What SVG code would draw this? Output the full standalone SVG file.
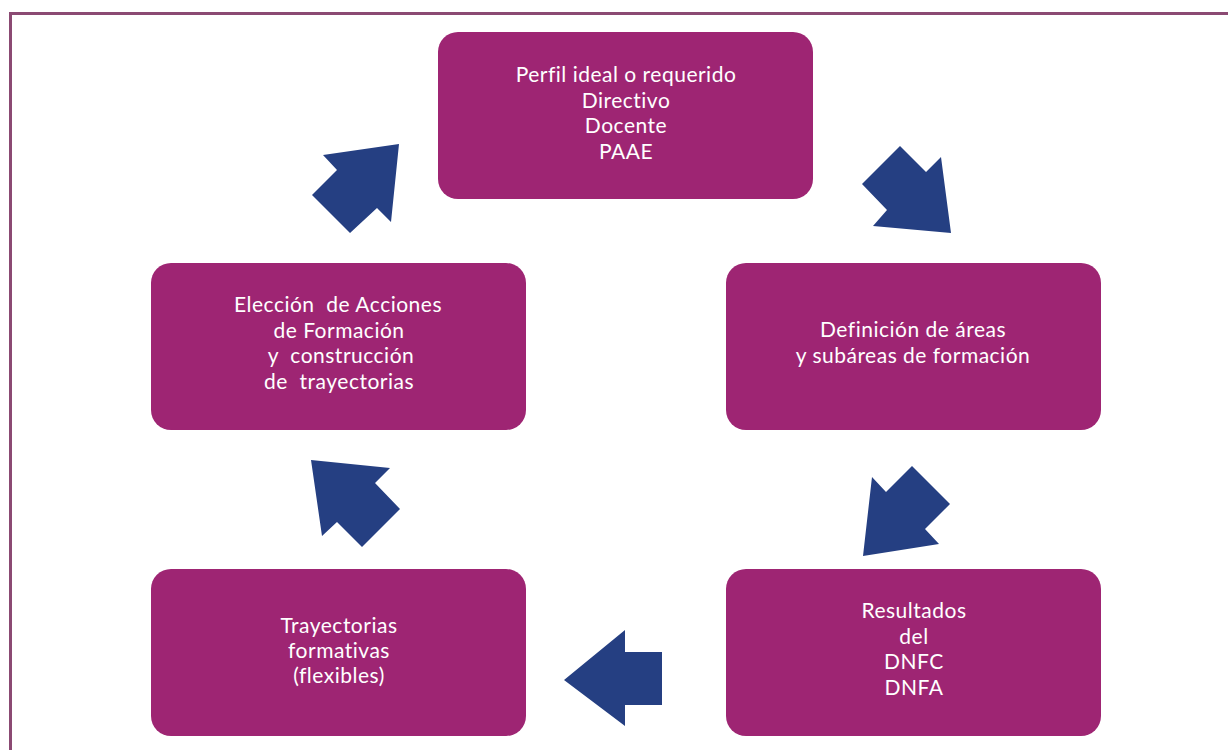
<svg xmlns="http://www.w3.org/2000/svg" width="1228" height="750" viewBox="0 0 1228 750">
  <style>
    .box { fill: #9e2573; }
    .lbl { fill: #ffffff; font-family: Lato, "Open Sans", sans-serif; font-size: 21px; letter-spacing: 0.5px; font-variant-ligatures: none; text-anchor: middle; }
    .arrow { fill: #253f82; }
    .frame { fill: none; stroke: #8b4a73; stroke-width: 3; }
  </style>
  <rect width="1228" height="750" fill="#ffffff"/>
  <!-- page frame -->
  <path class="frame" d="M10.5 750 V13.5 H1228"/>

  <g id="perfil">
    <rect class="box" x="438" y="32" width="375" height="167" rx="20"/>
    <text class="lbl" x="626" y="82">Perfil ideal o requerido</text>
    <text class="lbl" x="626" y="107.5">Directivo</text>
    <text class="lbl" x="626" y="133">Docente</text>
    <text class="lbl" x="626" y="158.5">PAAE</text>
  </g>

  <g id="definicion">
    <rect class="box" x="726" y="263" width="375" height="167" rx="20"/>
    <text class="lbl" x="913" y="337">Definición de áreas</text>
    <text class="lbl" x="913" y="363">y subáreas de formación</text>
  </g>

  <g id="resultados">
    <rect class="box" x="726" y="569" width="375" height="167" rx="20"/>
    <text class="lbl" x="914" y="618">Resultados</text>
    <text class="lbl" x="914" y="643.5">del</text>
    <text class="lbl" x="914" y="669">DNFC</text>
    <text class="lbl" x="914" y="694.5">DNFA</text>
  </g>

  <g id="trayectorias">
    <rect class="box" x="151" y="569" width="375" height="167" rx="20"/>
    <text class="lbl" x="339" y="633">Trayectorias</text>
    <text class="lbl" x="339" y="658">formativas</text>
    <text class="lbl" x="339" y="683">(flexibles)</text>
  </g>

  <g id="eleccion">
    <rect class="box" x="151" y="263" width="375" height="167" rx="20"/>
    <text class="lbl" x="338" y="312" xml:space="preserve">Elección  de Acciones</text>
    <text class="lbl" x="339" y="337.5">de Formación</text>
    <text class="lbl" x="341" y="363" xml:space="preserve">y  construcción</text>
    <text class="lbl" x="339" y="388.5" xml:space="preserve">de  trayectorias</text>
  </g>

  <!-- block arrows between the steps of the cycle -->
  <g id="connectors">
    <polygon class="arrow" points="900,146 926,172 941,157 951,233 873,226 887,210 862,184"/>
    <polygon class="arrow" points="912,466 950,504 925,529 939,544 863,556 872,477 886,492"/>
    <polygon class="arrow" points="564,680 625,630 625,652 662,652 662,705 625,705 625,726"/>
    <polygon class="arrow" points="311,460 390,468 375,483 400,509 362,547 337,522 322,536"/>
    <polygon class="arrow" points="399,144 323,155 337,170 312,195 350,233 377,208 391,222"/>
  </g>
</svg>
